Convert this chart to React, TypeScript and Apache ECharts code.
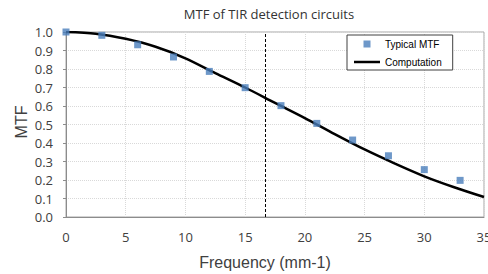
import React, { useEffect, useRef } from "react";
import * as echarts from "echarts";

const titleText = "MTF of TIR detection circuits";
const xAxisTitle = "Frequency (mm-1)";
const yAxisTitle = "MTF";

const measuredFreq = [0, 3, 6, 9, 12, 15, 18, 21, 24, 27, 30, 33];
const typicalMtf = [1.0, 0.982, 0.931, 0.865, 0.787, 0.699, 0.602, 0.506, 0.416, 0.331, 0.256, 0.198];

const computedFreq = [0, 2.5, 5, 7.5, 10, 12.5, 15, 17.5, 20, 22.5, 25, 27.5, 30, 32.5, 35];
const computedMtf = [1.0, 0.991, 0.963, 0.92, 0.858, 0.778, 0.7, 0.617, 0.535, 0.448, 0.365, 0.29, 0.22, 0.161, 0.108];

const nyquistFreq = 16.67;

export default function App() {
  const ref = useRef<HTMLDivElement>(null);

  useEffect(() => {
    document.body.style.margin = "0";
    if (!ref.current) return;
    const chart = echarts.init(ref.current, undefined, { renderer: "svg" });
    const axisText = { color: "#404040", fontSize: 13, fontFamily: "Open Sans" };
    chart.setOption({
      animation: false,
      backgroundColor: "#ffffff",
      title: {
        text: titleText,
        left: 269,
        top: 7,
        padding: 0,
        textAlign: "center",
        textStyle: { fontSize: 13, fontWeight: "normal", color: "#333333", fontFamily: "Open Sans" },
      },
      grid: {
        left: 66,
        right: 4,
        top: 32,
        bottom: 57,
        containLabel: false,
        outerBoundsMode: "none",
        show: true,
        borderColor: "#a6a6a6",
        borderWidth: 1,
        backgroundColor: "transparent",
      },
      legend: {
        orient: "vertical",
        left: 347,
        top: 35,
        itemWidth: 26,
        itemHeight: 7,
        itemGap: 8,
        padding: [4, 11, 3, 7],
        borderColor: "#404040",
        borderWidth: 1,
        backgroundColor: "#ffffff",
        textStyle: { fontSize: 10, color: "#000000", fontFamily: "Liberation Sans" },
        data: [
          { name: "Typical MTF", icon: "path://M0,0h1v1h-1z" },
          { name: "Computation", icon: "path://M0,0h26v2.5h-26z" },
        ],
      },
      xAxis: {
        type: "value",
        min: 0,
        max: 35,
        interval: 5,
        axisLine: { show: true, lineStyle: { color: "#8c8c8c", width: 1 } },
        axisTick: { show: false },
        axisLabel: { ...axisText, margin: 13 },
        splitLine: { show: true, lineStyle: { color: "#d9d9d9", type: [1, 1] } },
      },
      yAxis: {
        type: "value",
        min: 0,
        max: 1,
        interval: 0.1,
        axisLine: { show: true, lineStyle: { color: "#8c8c8c", width: 1 } },
        axisTick: { show: true, length: 3, lineStyle: { color: "#8c8c8c" } },
        axisLabel: { ...axisText, margin: 13, formatter: (v: number) => v.toFixed(1) },
        splitLine: { show: true, lineStyle: { color: "#d9d9d9", type: [1, 1] } },
      },
      graphic: [
        {
          type: "text",
          x: 265,
          y: 262,
          style: {
            text: xAxisTitle,
            fontSize: 16,
            fontFamily: "Liberation Sans",
            fill: "#404040",
            textAlign: "center",
            textVerticalAlign: "middle",
          },
        },
        {
          type: "text",
          x: 21,
          y: 122,
          rotation: Math.PI / 2,
          style: {
            text: yAxisTitle,
            fontSize: 16,
            fontFamily: "Liberation Sans",
            fill: "#404040",
            textAlign: "center",
            textVerticalAlign: "middle",
          },
        },
      ],
      series: [
        {
          name: "Computation",
          type: "line",
          data: computedFreq.map((f, i) => [f, computedMtf[i]]),
          smooth: 0.3,
          symbol: "none",
          lineStyle: { color: "#000000", width: 2.5 },
          itemStyle: { color: "#000000" },
          z: 2,
          markLine: {
            silent: true,
            symbol: ["none", "none"],
            label: { show: false },
            lineStyle: { color: "#000000", width: 1, type: [3, 2] },
            data: [{ xAxis: nyquistFreq }],
          },
        },
        {
          name: "Typical MTF",
          type: "scatter",
          data: measuredFreq.map((f, i) => [f, typicalMtf[i]]),
          symbol: "rect",
          symbolSize: 7,
          itemStyle: { color: "#4a7ebb" },
          z: 3,
        },
      ],
    });
    return () => chart.dispose();
  }, []);

  return <div ref={ref} style={{ width: 488, height: 274 }} />;
}
